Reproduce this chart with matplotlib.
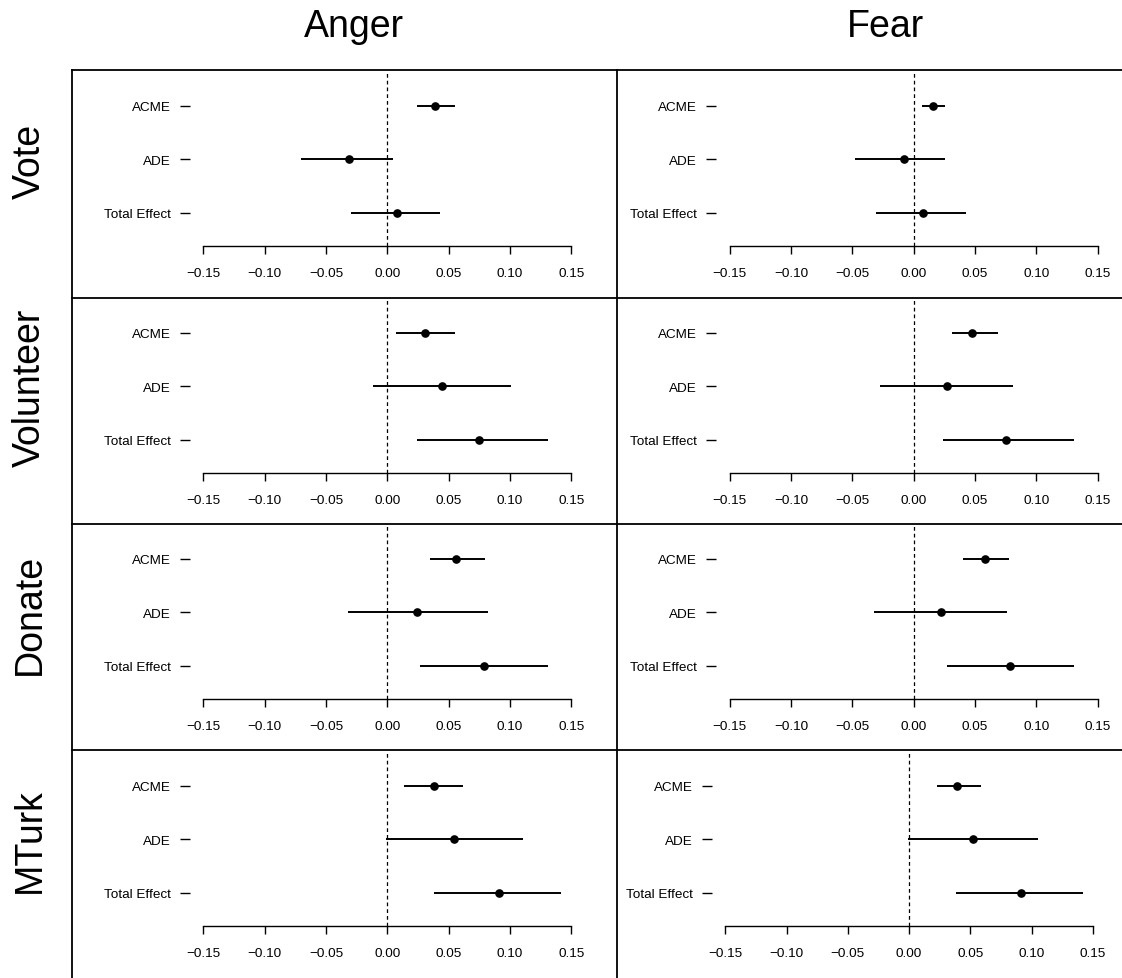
import matplotlib
matplotlib.use("Agg")
import matplotlib.pyplot as plt
from matplotlib.lines import Line2D

plt.rcParams["font.family"] = ["Liberation Sans", "DejaVu Sans"]
plt.rcParams["axes.unicode_minus"] = True

# ---- data -------------------------------------------------------------
emotions = ["Anger", "Fear"]
outcomes = ["Vote", "Volunteer", "Donate", "MTurk"]
effects = ["ACME", "ADE", "Total Effect"]
x_ticks = [-0.15, -0.10, -0.05, 0.00, 0.05, 0.10, 0.15]

# rows: outcomes; columns: ACME, ADE, Total Effect
anger_est = [[0.039, -0.031, 0.008],
             [0.031, 0.045, 0.075],
             [0.056, 0.024, 0.079],
             [0.038, 0.054, 0.091]]
anger_lo = [[0.024, -0.070, -0.030],
            [0.007, -0.012, 0.024],
            [0.035, -0.032, 0.027],
            [0.014, -0.001, 0.038]]
anger_hi = [[0.055, 0.005, 0.043],
            [0.055, 0.101, 0.131],
            [0.080, 0.082, 0.131],
            [0.062, 0.111, 0.142]]

fear_est = [[0.016, -0.008, 0.008],
            [0.048, 0.027, 0.075],
            [0.058, 0.022, 0.079],
            [0.039, 0.052, 0.091]]
fear_lo = [[0.007, -0.048, -0.031],
           [0.031, -0.027, 0.024],
           [0.040, -0.032, 0.027],
           [0.023, -0.001, 0.038]]
fear_hi = [[0.026, 0.026, 0.043],
           [0.069, 0.081, 0.131],
           [0.078, 0.076, 0.131],
           [0.059, 0.105, 0.142]]

est = {"Anger": anger_est, "Fear": fear_est}
lo = {"Anger": anger_lo, "Fear": fear_lo}
hi = {"Anger": anger_hi, "Fear": fear_hi}

# ---- layout (pixels) ---------------------------------------------------
W, H = 1122, 979
fig = plt.figure(figsize=(W / 100, H / 100), dpi=100)


def fx(x):
    return x / W


def fy(y):
    return 1 - y / H


row_top = [71, 298, 524, 751]
col_yaxis = [190.0, 716.0]      # x of the y-axis ticks
col_xstart = [203.4, 729.7]     # x of the -0.15 tick
px_per_unit = 1226.0
row_step = 53.35                 # pixel distance between effect rows
first_row = 36.0                 # ACME row below panel top
axis_off = 175.5                 # x-axis line below panel top
label_fs = 9.7


def tick_label(v):
    return f"{v:.2f}".replace("-", "\u2212")


for c, emo in enumerate(emotions):
    for r, outc in enumerate(outcomes):
        shift = -4.5 if (c == 1 and r == 3) else 0.0
        T = row_top[r]
        left = col_yaxis[c] + shift
        x0 = col_xstart[c] + shift
        right = x0 + 0.3 * px_per_unit + 14
        top = T + 1
        bottom = T + axis_off
        ax = fig.add_axes([fx(left), fy(bottom), (right - left) / W,
                           (bottom - top) / H])
        ax.set_xlim(-0.15 - (x0 - left) / px_per_unit,
                    0.15 + 14 / px_per_unit)
        ymin = 1 - (axis_off - (first_row + 2 * row_step)) / row_step
        ymax = 3 + (first_row - 1) / row_step
        ax.set_ylim(ymin, ymax)
        ax.patch.set_visible(False)

        ypos = [3, 2, 1]
        ax.axvline(0, color="black", lw=0.9, dashes=(3.0, 2.4))
        ax.hlines(ypos, lo[emo][r], hi[emo][r], color="black", lw=1.4)
        ax.plot(est[emo][r], ypos, "o", color="black", ms=5.2, zorder=3)

        for s in ("top", "right", "left"):
            ax.spines[s].set_visible(False)
        ax.spines["bottom"].set_bounds(-0.15, 0.15)
        ax.spines["bottom"].set_linewidth(1.0)
        ax.set_xticks(x_ticks)
        ax.set_xticklabels([tick_label(v) for v in x_ticks])
        ax.set_yticks(ypos)
        ax.set_yticklabels(effects)
        ax.tick_params(axis="x", direction="out", length=5.6, width=1.0,
                       pad=10.0, labelsize=label_fs)
        ax.tick_params(axis="y", direction="out", length=7.2, width=1.0,
                       pad=6.5, labelsize=label_fs)

# column titles
fig.text(fx(354), fy(27), "Anger", ha="center", va="center", fontsize=27)
fig.text(fx(885), fy(27), "Fear", ha="center", va="center", fontsize=27)

# row titles
for r, outc in enumerate(outcomes):
    fig.text(fx(30), fy(row_top[r] + 90), outc, ha="center", va="center",
             rotation=90, fontsize=27)

# panel frame
lw_frame = 1.3
fig.add_artist(Line2D([fx(72), fx(72)], [fy(71), fy(979)], color="black", lw=lw_frame))
fig.add_artist(Line2D([fx(617), fx(617)], [fy(71), fy(979)], color="black", lw=lw_frame))
for yb in [71, 298.5, 524.5, 751]:
    fig.add_artist(Line2D([fx(72), fx(1122)], [fy(yb), fy(yb)], color="black", lw=lw_frame))

fig.savefig("out.png", dpi=100)
